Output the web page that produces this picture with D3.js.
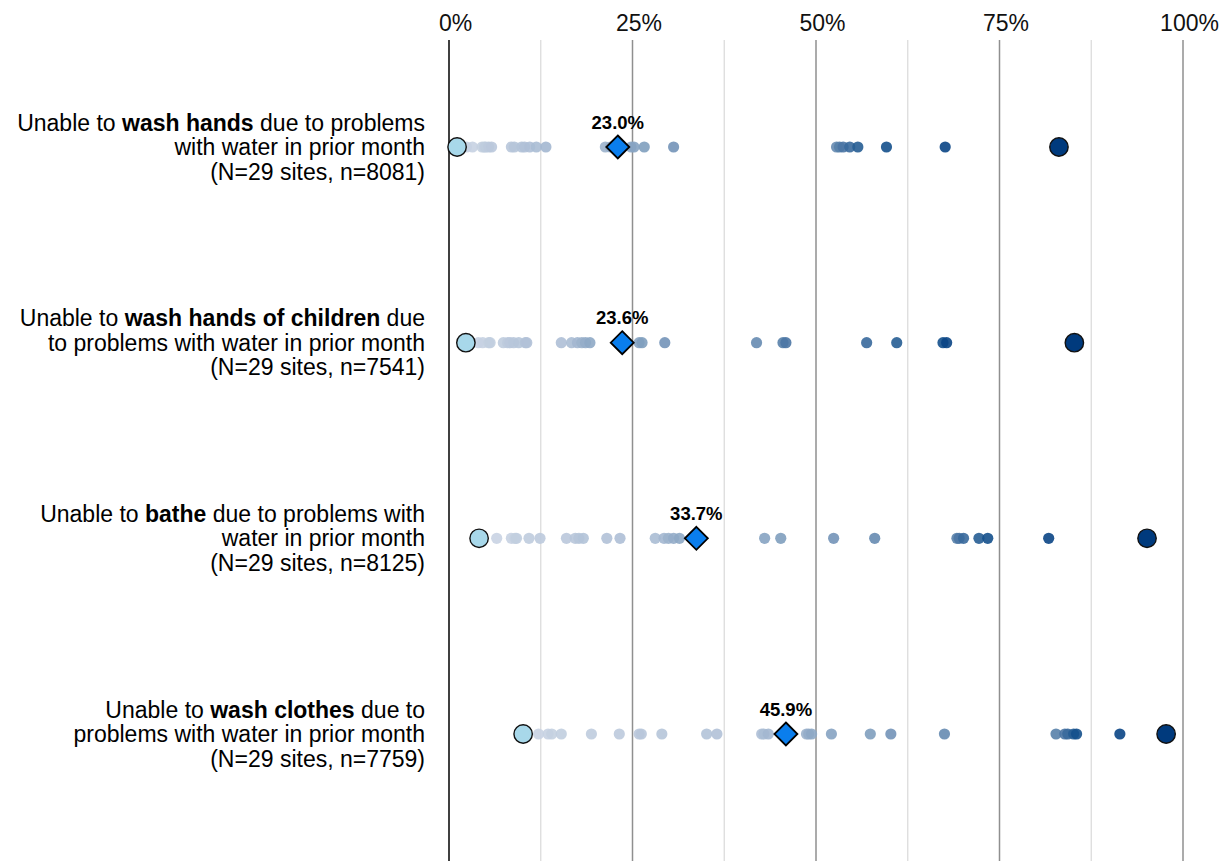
<!DOCTYPE html>
<html>
<head>
<meta charset="utf-8">
<script src="https://cdn.jsdelivr.net/npm/d3@7"></script>
<style>
  body { margin: 0; background: #fff; }
  text { font-family: "Liberation Sans", Arial, sans-serif; }
</style>
</head>
<body>
<svg id="chart" width="1231" height="861"></svg>
<script>
// label lines, [normal, bold, normal] per first line
var labelLines = [
    [["Unable to ", "wash hands", " due to problems"], "with water in prior month", "(N=29 sites, n=8081)"],
    [["Unable to ", "wash hands of children", " due"], "to problems with water in prior month", "(N=29 sites, n=7541)"],
    [["Unable to ", "bathe", " due to problems with"], "water in prior month", "(N=29 sites, n=8125)"],
    [["Unable to ", "wash clothes", " due to"], "problems with water in prior month", "(N=29 sites, n=7759)"]
];
var means = [23.0, 23.6, 33.7, 45.9];
// site level percentages (29 sites per row)
var sitesWashHands = [1.1, 2.4, 3.2, 4.5, 4.8, 5.0, 5.4, 5.8, 8.5, 8.9, 9.9, 10.3, 11.0, 11.9, 13.2,
    21.3, 22.0, 24.8, 25.2, 26.6, 30.6, 52.8, 53.2, 53.7, 54.6, 55.7, 59.6, 67.6, 83.1];
var sitesWashChildren = [2.3, 4.0, 4.6, 5.4, 5.6, 7.4, 8.0, 8.3, 8.8, 9.5, 10.4, 10.6, 15.3, 16.7, 17.5,
    18.1, 18.6, 19.2, 25.9, 26.3, 29.4, 41.9, 45.5, 45.9, 56.9, 61.0, 67.3, 67.8, 85.2];
var sitesBathe = [4.1, 6.5, 8.5, 9.0, 9.2, 10.9, 12.4, 16.0, 17.2, 17.7, 18.3, 21.5, 23.3, 28.1, 29.3,
    29.9, 30.6, 31.4, 43.0, 45.2, 52.4, 58.0, 69.2, 69.5, 70.1, 72.2, 73.4, 81.7, 95.1];
var sitesWashClothes = [10.1, 12.2, 13.5, 14.0, 15.3, 19.4, 23.2, 25.9, 26.2, 29.0, 35.1, 36.5, 42.6, 42.9,
    43.5, 48.7, 49.0, 49.4, 52.1, 57.4, 60.2, 67.5, 82.7, 83.9, 84.3, 85.1, 85.5, 91.4, 97.7];
var siteRows = [sitesWashHands, sitesWashChildren, sitesBathe, sitesWashClothes];
var tickValues = [0, 25, 50, 75, 100];
var minorTicks = [12.5, 37.5, 62.5, 87.5];

var svg = d3.select("#chart");
var W = 1231, H = 861;

var x = d3.scaleLinear().domain([0, 100]).range([449, 1183]);
var y = d3.scalePoint().domain(d3.range(labelLines.length)).range([147, 734]);

// colour by rank in the row
var rankColor = d3.scaleLinear()
    .domain([0, 0.45, 0.68, 0.82, 0.93, 1])
    .range(["#cbd5e4", "#adbed5", "#7f9ebe", "#4c77a4", "#134f8c", "#003a7d"]);

// grid
var grid = svg.append("g");
grid.selectAll("line.minor").data(minorTicks).enter().append("line")
    .attr("x1", d => x(d)).attr("x2", d => x(d))
    .attr("y1", 40).attr("y2", H)
    .attr("stroke", "#dcdcdc").attr("stroke-width", 1.3);
grid.selectAll("line.major").data(tickValues.slice(1)).enter().append("line")
    .attr("x1", d => x(d)).attr("x2", d => x(d))
    .attr("y1", 40).attr("y2", H)
    .attr("stroke", "#8f8f8f").attr("stroke-width", 1.5);
grid.append("line")
    .attr("x1", x(0)).attr("x2", x(0)).attr("y1", 40).attr("y2", H)
    .attr("stroke", "#000").attr("stroke-width", 1.5);

// top axis labels
var xAxis = d3.axisTop(x).tickValues(tickValues).tickSize(0).tickPadding(0)
    .tickFormat(d => d + "%");
var ax = svg.append("g").attr("transform", "translate(6,31)").call(xAxis);
ax.select(".domain").remove();
ax.selectAll("text").attr("font-size", 23).attr("fill", "#111")
    .attr("font-family", "Liberation Sans, Arial, sans-serif");

// row labels
labelLines.forEach(function (lines, i) {
    var t = svg.append("text")
        .attr("text-anchor", "end")
        .attr("font-size", 23)
        .attr("fill", "#000");
    var first = t.append("tspan").attr("x", 425).attr("y", y(i) - 24.5 + 8);
    first.text(lines[0][0]);
    t.append("tspan").attr("font-weight", "bold").text(lines[0][1]);
    t.append("tspan").text(lines[0][2]);
    t.append("tspan").attr("x", 425).attr("y", y(i) + 8).text(lines[1]);
    t.append("tspan").attr("x", 425).attr("y", y(i) + 24.5 + 8).text(lines[2]);
});

// site dots
siteRows.forEach(function (vals, i) {
    var sorted = vals.slice().sort(d3.ascending);
    var n = sorted.length;
    var g = svg.append("g");
    var inner = sorted.slice(1, n - 1);
    g.selectAll("circle.site").data(inner).enter().append("circle")
        .attr("cx", d => x(d)).attr("cy", y(i)).attr("r", 5.6)
        .attr("fill", (d, k) => rankColor((k + 1) / (n - 1)))
        .attr("fill-opacity", 0.9);
    // min
    g.append("circle")
        .attr("cx", x(sorted[0])).attr("cy", y(i)).attr("r", 9.2)
        .attr("fill", "#a8d8ea").attr("stroke", "#111").attr("stroke-width", 1.4);
    // max
    g.append("circle")
        .attr("cx", x(sorted[n - 1])).attr("cy", y(i)).attr("r", 9.2)
        .attr("fill", "#003a7d").attr("stroke", "#111").attr("stroke-width", 1.4);
    // mean diamond
    var s = 11.5;
    g.append("path")
        .attr("d", "M0," + (-s) + "L" + s + ",0L0," + s + "L" + (-s) + ",0Z")
        .attr("transform", "translate(" + x(means[i]) + "," + y(i) + ")")
        .attr("fill", "#0a7eed").attr("stroke", "#000").attr("stroke-width", 1.8);
    g.append("text")
        .attr("x", x(means[i])).attr("y", y(i) - 18.5)
        .attr("text-anchor", "middle")
        .attr("font-size", 18.5).attr("font-weight", "bold")
        .text(means[i].toFixed(1) + "%");
});
</script>
</body>
</html>
